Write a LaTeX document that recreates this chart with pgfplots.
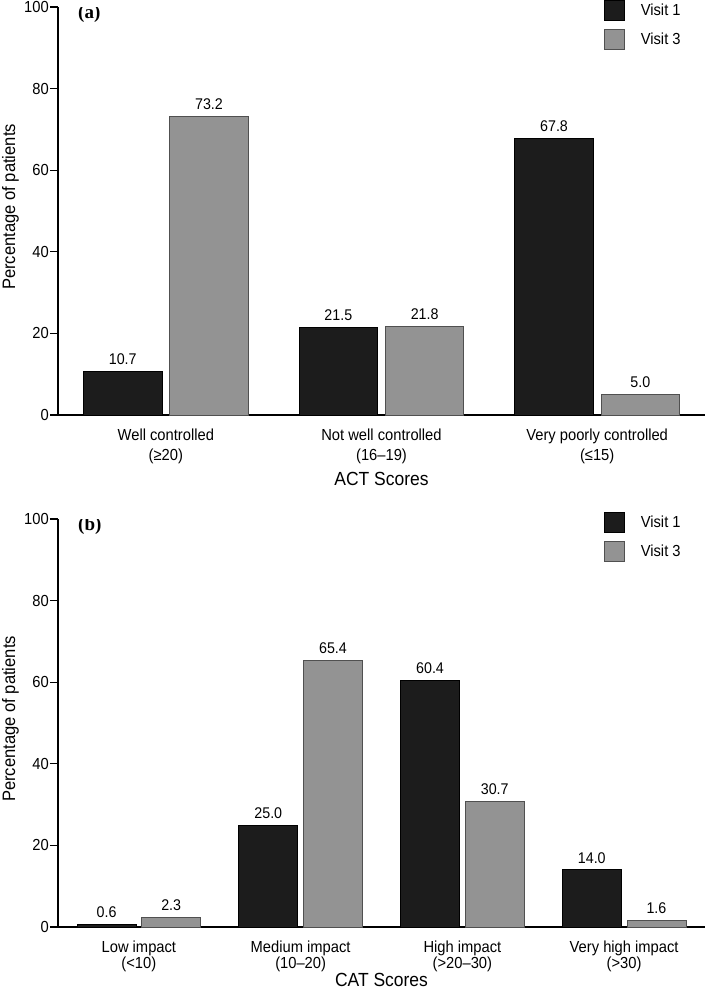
\documentclass[border=0pt]{standalone}
\usepackage{fontspec}
\setmainfont{Liberation Sans}[FakeStretch=0.92]
\newfontfamily\panelfont{Liberation Serif}
\usepackage{pgfplots}
\pgfplotsset{compat=1.18}
\definecolor{barblack}{HTML}{1C1C1C}
\definecolor{bargray}{HTML}{939393}
\definecolor{grayedge}{HTML}{505050}
\pgfplotsset{
  panel/.style={
    scale only axis, width=647pt, height=408pt,
    ymin=0, ymax=100, ytick={0,20,40,60,80,100},
    axis x line*=bottom, axis y line*=left,
    axis line style={line width=1.1pt, black},
    major tick length=8pt, tick align=outside,
    ytick style={line width=1.1pt, black},
    xtick style={draw=none},
    ybar, bar width=0.364,
    /pgf/number format/assume math mode=true,
    yticklabel style={font=\fontsize{16}{18}\selectfont, inner sep=0pt, xshift=-1pt},
    xticklabel style={font=\fontsize{16}{19.5}\selectfont, align=center, inner sep=0pt},
    nodes near coords,
    nodes near coords style={font=\fontsize{15.5}{18}\selectfont, yshift=3pt,
      /pgf/number format/fixed, /pgf/number format/fixed zerofill, /pgf/number format/precision=1},
    ylabel={Percentage of patients},
    ylabel style={font=\fontsize{18}{22}\selectfont, at={([xshift=-56pt]axis description cs:0,0.51)}, anchor=north, inner sep=0pt},
    xlabel style={font=\fontsize{19}{22}\selectfont, at={(axis description cs:0.5,0)}, anchor=north, inner sep=0pt},
    legend style={at={(0.8439,1.0172)}, anchor=north west, draw=none, fill=none,
      inner sep=0pt, outer sep=0pt, row sep=8pt, font=\fontsize{16}{18}\selectfont,
      nodes={inner sep=0pt},
      /tikz/every odd column/.append style={column sep=16pt}},
    legend cell align=left,
  },
  v1/.style={fill=barblack, draw=black, line width=0.8pt, bar shift=-0.2,
    legend image code/.code={\draw[fill=barblack, draw=black, line width=0.8pt] (0pt,-10pt) rectangle (20pt,10pt);}},
  v3/.style={fill=bargray, draw=grayedge, line width=0.8pt, bar shift=0.2,
    legend image code/.code={\draw[fill=bargray, draw=grayedge, line width=0.8pt] (0pt,-10pt) rectangle (20pt,10pt);}},
}
\begin{document}
\begin{tikzpicture}
\useasboundingbox (0,0) rectangle (709pt,-991pt);
% Panel (a)
\begin{axis}[panel, at={(58pt,-415pt)}, anchor=south west,
  xmin=-0.5, xmax=2.5, xtick={0,1,2},
  xticklabels={{Well controlled\\(≥20)},{Not well controlled\\(16–19)},{Very poorly controlled\\(≤15)}},
  xticklabel style={yshift=-6pt},
  xlabel={ACT Scores}, xlabel style={yshift=-57pt}]
\addplot[v1] coordinates {(0,10.7) (1,21.5) (2,67.8)};
\addplot[v3] coordinates {(0,73.2) (1,21.8) (2,5.0)};
\legend{Visit 1, Visit 3}
\node[anchor=north west, font=\panelfont\bfseries\fontsize{19}{20}\selectfont, inner sep=0pt, xshift=20pt, yshift=2pt] at (rel axis cs:0,1) {(a)};
\end{axis}
% Panel (b)
\begin{axis}[panel, at={(58pt,-927pt)}, anchor=south west,
  xmin=-0.5, xmax=3.5, xtick={0,1,2,3},
  xticklabels={{Low impact\\(<10)},{Medium impact\\(10–20)},{High impact\\(>20–30)},{Very high impact\\(>30)}},
  xticklabel style={yshift=-6pt, font=\fontsize{16}{16}\selectfont},
  xlabel={CAT Scores}, xlabel style={yshift=-46pt}]
\addplot[v1] coordinates {(0,0.6) (1,25.0) (2,60.4) (3,14.0)};
\addplot[v3] coordinates {(0,2.3) (1,65.4) (2,30.7) (3,1.6)};
\legend{Visit 1, Visit 3}
\node[anchor=north west, font=\panelfont\bfseries\fontsize{19}{20}\selectfont, inner sep=0pt, xshift=20pt, yshift=2pt] at (rel axis cs:0,1) {(b)};
\end{axis}
\end{tikzpicture}
\end{document}
